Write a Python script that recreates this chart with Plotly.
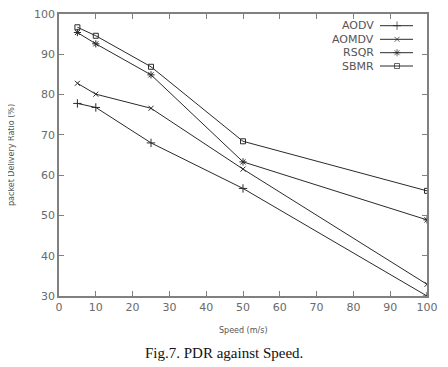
import plotly.graph_objects as go

speed = [5, 10, 25, 50, 100]
aodv = [77.8, 76.8, 68.0, 56.7, 30.0]
aomdv = [82.8, 80.1, 76.6, 61.5, 32.9]
rsqr = [95.4, 92.6, 84.9, 63.3, 48.9]
sbmr = [96.7, 94.6, 86.9, 68.4, 56.1]

series_names = ["AODV", "AOMDV", "RSQR", "SBMR"]
series_vals = [aodv, aomdv, rsqr, sbmr]
symbols = ["cross-thin-open", "x-thin-open", "asterisk-open", "square-open"]
sizes = [6, 5, 6, 5]

x_ticks = [0, 10, 20, 30, 40, 50, 60, 70, 80, 90, 100]
y_ticks = [30, 40, 50, 60, 70, 80, 90, 100]

LINE = "#2a2a2a"
AXIS = "#808080"
TICKFONT = dict(family="DejaVu Sans", size=11, color="#6a6a6a")

# page body has an 8px default margin; positions below are in page pixels
OFF = 8.0

fig = go.Figure()
for name, vals, sym, sz in zip(series_names, series_vals, symbols, sizes):
    fig.add_trace(go.Scatter(
        x=speed, y=vals, name=name, mode="lines+markers",
        line=dict(color=LINE, width=1),
        marker=dict(symbol=sym, size=sz, color=LINE, line=dict(color=LINE, width=1)),
        showlegend=False,
    ))

# custom legend (text left of key, as in the reference)
W, H = 368.0, 282.0
L, T = 59.0, 14.0
row_px = [25.7, 39.3, 52.7, 66.0]
kx0, kx1, kxm, tx = 380.0, 413.0, 397.0, 376.0
def px2x(p):
    return (p - L) / W
def py2y(p):
    return (T + H - p) / H

annotations = []
for name, sym, sz, ry in zip(series_names, symbols, sizes, row_px):
    fig.add_trace(go.Scatter(
        x=[px2x(kx0), px2x(kxm), px2x(kx1)], y=[py2y(ry)] * 3,
        xaxis="x2", yaxis="y2", mode="lines+markers", showlegend=False,
        hoverinfo="skip",
        line=dict(color=LINE, width=1),
        marker=dict(symbol=sym, size=[0, sz, 0], color=LINE, line=dict(color=LINE, width=1)),
    ))
    annotations.append(dict(
        x=px2x(tx), y=py2y(ry), xref="paper", yref="paper", text=name,
        showarrow=False, xanchor="right", yanchor="middle",
        font=dict(family="DejaVu Sans", size=11, color="#555555"),
    ))

annotations.append(dict(
    x=0.5, y=-(330 - 296) / H, xref="paper", yref="paper", text="Speed (m/s)",
    showarrow=False, xanchor="center", yanchor="middle",
    font=dict(family="DejaVu Sans", size=8, color="#555555"),
))
annotations.append(dict(
    x=-(59 - 11) / W, y=0.5, xref="paper", yref="paper", text="packet Delivery Ratio (%)",
    showarrow=False, xanchor="center", yanchor="middle", textangle=-90,
    font=dict(family="DejaVu Sans", size=8, color="#555555"),
))
annotations.append(dict(
    x=(224 - L) / W, y=-(353 - 296) / H, xref="paper", yref="paper",
    text="Fig.7. PDR against Speed.",
    showarrow=False, xanchor="center", yanchor="middle",
    font=dict(family="Liberation Serif", size=15, color="#111111"),
))

fig.update_layout(
    width=448 - OFF, height=367 - OFF,
    margin=dict(l=L - OFF, r=21, t=T - OFF, b=71, autoexpand=False),
    paper_bgcolor="white", plot_bgcolor="white",
    showlegend=False,
    xaxis=dict(range=[0, 100], tickvals=x_ticks, ticks="inside", ticklen=5,
               tickcolor=AXIS, showline=True, linecolor=AXIS, linewidth=1.5,
               mirror="ticks", showgrid=False, zeroline=False, tickfont=TICKFONT,
               ticklabeloverflow="allow"),
    yaxis=dict(range=[30, 100], tickvals=y_ticks, ticks="inside", ticklen=5,
               tickcolor=AXIS, showline=True, linecolor=AXIS, linewidth=1.5,
               mirror="ticks", showgrid=False, zeroline=False, tickfont=TICKFONT,
               ticklabeloverflow="allow"),
    xaxis2=dict(range=[0, 1], overlaying="x", visible=False, fixedrange=True),
    yaxis2=dict(range=[0, 1], overlaying="y", visible=False, fixedrange=True),
    annotations=annotations,
)

fig.write_html("out.html")
